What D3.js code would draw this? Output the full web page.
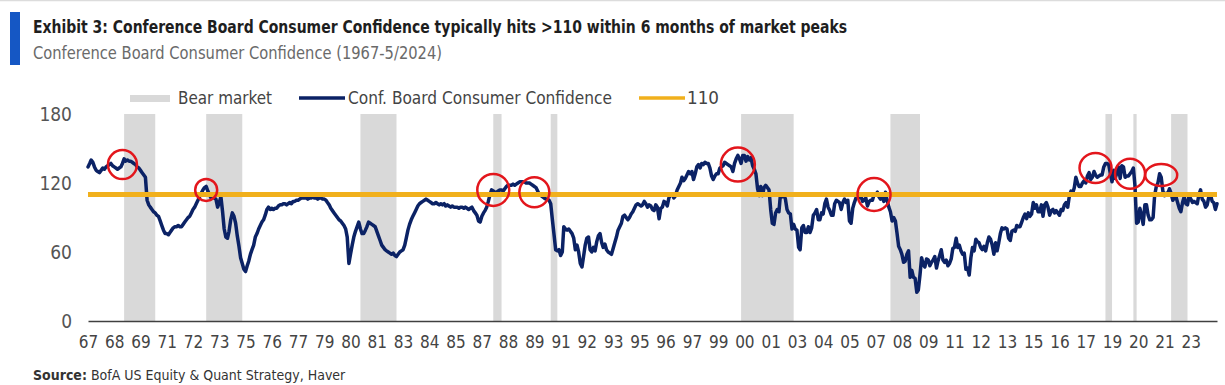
<!DOCTYPE html>
<html>
<head>
<meta charset="utf-8">
<script src="https://cdn.jsdelivr.net/npm/d3@7"></script>
<style>
  body { margin: 0; background: #fff; }
  text { font-family: "Liberation Sans Narrow", "DejaVu Sans Condensed", "Arial Narrow", sans-serif; }
</style>
</head>
<body>
<svg id="chart" width="1225" height="385"></svg>
<script>
// monthly Conference Board Consumer Confidence, Jan 1967 .. May 2024
const startMonth = "1967-01";
const confidence = [
  134, 137, 140, 138, 134, 131, 130, 129, 131, 133, 132, 134, // 1967
  135, 136, 137, 135, 134, 133, 132, 133, 134, 137, 141, 139, // 1968
  140, 139, 139, 138, 137, 136, 134, 133, 131, 129, 127, 125, // 1969
  105, 101, 99, 97, 95, 94, 92, 91, 87, 83, 79, 76,           // 1970
  76, 75, 77, 79, 81, 82, 82, 83, 82, 82, 84, 86,             // 1971
  88, 90, 91, 94, 97, 99, 102, 105, 108, 111, 114, 116,       // 1972
  117, 113, 110, 107, 108, 107, 106, 99, 103, 108, 95, 80,    // 1973
  73, 72, 78, 88, 94, 91, 85, 74, 65, 55, 50, 45,             // 1974
  43, 48, 52, 58, 62, 66, 73, 76, 80, 83, 86, 88,             // 1975
  92, 97, 99, 97, 98, 97, 98, 98, 100, 101, 101, 102,         // 1976
  102, 101, 102, 103, 102, 104, 104, 105, 105, 106, 107, 107, // 1977
  107, 107, 106, 107, 107, 108, 107, 107, 106, 107, 107, 106, // 1978
  106, 105, 103, 101, 98, 96, 94, 92, 90, 88, 87, 85,         // 1979
  83, 80, 73, 50, 58, 66, 73, 78, 82, 86, 80, 76,             // 1980
  76, 79, 82, 86, 85, 84, 83, 82, 78, 74, 70, 66,             // 1981
  64, 62, 61, 60, 59, 58, 59, 57, 56, 58, 60, 61,             // 1982
  62, 66, 72, 79, 84, 88, 91, 94, 97, 100, 102, 103,          // 1983
  104, 105, 106, 105, 104, 103, 102, 102, 103, 102, 101, 102, // 1984
  101, 102, 100, 101, 100, 99, 100, 99, 99, 99, 98, 99,       // 1985
  99, 98, 99, 98, 97, 98, 99, 96, 94, 92, 87, 86,             // 1986
  91, 94, 96, 99, 104, 110, 114, 113, 112, 112, 113, 114,     // 1987
  114, 113, 115, 117, 118, 118, 118, 119, 118, 119, 120, 121, // 1988
  121, 121, 121, 120, 120, 120, 119, 118, 117, 116, 113, 110, // 1989
  109, 108, 107, 106, 106, 105, 102, 88, 75, 62, 61, 62,      // 1990
  57, 60, 82, 80, 79, 80, 78, 76, 72, 62, 66, 60,             // 1991
  50, 47, 56, 66, 72, 73, 62, 60, 64, 61, 69, 74,             // 1992
  76, 68, 64, 67, 62, 60, 59, 58, 63, 68, 73, 79,             // 1993
  82, 85, 91, 92, 90, 88, 90, 93, 95, 98, 101, 102,           // 1994
  101, 100, 101, 104, 102, 99, 101, 100, 97, 96, 101, 99,     // 1995
  89, 98, 99, 104, 103, 100, 107, 110, 110, 107, 109, 114,    // 1996
  117, 120, 125, 122, 124, 127, 130, 128, 130, 123, 128, 134, // 1997
  136, 133, 137, 136, 138, 137, 137, 133, 126, 123, 126, 128, // 1998
  128, 133, 134, 135, 138, 137, 136, 135, 134, 130, 137, 141, // 1999
  144, 141, 137, 144, 144, 139, 143, 140, 142, 135, 132, 128, // 2000
  115, 109, 117, 109, 116, 118, 116, 114, 97, 85, 84, 94,     // 2001
  97, 95, 110, 108, 110, 106, 97, 94, 93, 80, 84, 80,         // 2002
  79, 64, 62, 81, 83, 77, 77, 82, 77, 81, 92, 94,             // 2003
  97, 88, 88, 94, 93, 102, 106, 99, 96, 92, 92, 102,          // 2004
  105, 104, 103, 97, 103, 106, 103, 105, 87, 85, 98, 103,     // 2005
  107, 111, 107, 109, 104, 105, 107, 100, 104, 105, 105, 110, // 2006
  110, 112, 108, 106, 108, 104, 112, 105, 99, 95, 87, 90,     // 2007
  87, 76, 65, 62, 58, 51, 52, 58, 61, 38, 44, 38,             // 2008
  37, 25, 27, 40, 55, 49, 47, 54, 53, 48, 51, 53,             // 2009
  56, 46, 52, 57, 62, 53, 51, 53, 48, 50, 54, 63,             // 2010
  64, 72, 64, 66, 61, 58, 59, 45, 46, 40, 55, 64,             // 2011
  61, 71, 69, 68, 64, 62, 65, 61, 68, 73, 71, 66,             // 2012
  58, 68, 61, 68, 76, 81, 80, 81, 80, 72, 70, 78,             // 2013
  79, 78, 83, 82, 82, 86, 90, 93, 89, 94, 91, 93,             // 2014
  103, 98, 101, 95, 95, 101, 91, 101, 103, 99, 92, 96,        // 2015
  97, 94, 96, 94, 92, 97, 96, 101, 103, 99, 109, 113,         // 2016
  111, 116, 125, 120, 117, 117, 120, 122, 120, 126, 129, 123, // 2017
  125, 130, 127, 125, 126, 127, 127, 134, 137, 137, 136, 128, // 2018
  121, 131, 124, 129, 134, 124, 135, 134, 125, 126, 126, 128, // 2019
  130, 133, 118, 85, 86, 98, 92, 84, 101, 101, 92, 88,        // 2020
  88, 90, 109, 117, 120, 128, 125, 113, 109, 111, 111, 115,   // 2021
  111, 105, 107, 108, 103, 98, 95, 103, 108, 102, 101, 109,   // 2022
  106, 103, 104, 103, 102, 110, 114, 106, 104, 99, 101, 108,  // 2023
  110, 104, 103, 97, 102                                      // 2024
];

// bear markets: [first month, month after the end]
const bearStarts = ["1968-11", "1973-01", "1980-11", "1987-08", "1990-07", "2000-03", "2007-10", "2018-09", "2020-02", "2022-01"];
const bearEnds   = ["1970-06", "1974-11", "1982-09", "1988-01", "1990-11", "2002-11", "2009-04", "2019-01", "2020-04", "2022-11"];

const threshold = 110;

// circled peaks
const peakMonths = ["1968-10", "1973-01", "1987-08", "1989-09", "2000-01", "2006-12", "2018-03", "2019-12", "2021-07"];
const peakValues = [136, 114, 114, 112, 136, 110, 133, 128, 127];

const yTicks = [0, 60, 120, 180];
const xTickLabels = ["67","68","69","71","72","73","75","76","77","79","80","81","83","84","85","87","88","89","91","92","93","95","96","97","99","00","01","03","04","05","07","08","09","11","12","13","15","16","17","19","20","21","23"];
const xTickStepMonths = 16;

const title = "Exhibit 3: Conference Board Consumer Confidence typically hits >110 within 6 months of market peaks";
const subtitle = "Conference Board Consumer Confidence (1967-5/2024)";
const source = "BofA US Equity & Quant Strategy, Haver";

// ---- drawing ----
const navy = "#0b2265", gold = "#f1b01c", band = "#d9d9d9", red = "#e3161c";
const parseMonth = d3.timeParse("%Y-%m");
const start = parseMonth(startMonth);
const data = confidence.map((v, i) => ({ date: d3.timeMonth.offset(start, i), value: v }));

const svg = d3.select("#chart");
const plot = { left: 88, right: 1217, top: 114, bottom: 321 };

const x = d3.scaleTime()
  .domain([start, data[data.length - 1].date])
  .range([plot.left, plot.right]);
const y = d3.scaleLinear().domain([0, 180]).range([plot.bottom, plot.top]);

// frame line at the top
svg.append("line").attr("x1", 0).attr("x2", 1225).attr("y1", 0.5).attr("y2", 0.5)
  .attr("stroke", "#dcdcdc").attr("stroke-width", 1.5);

// header
svg.append("rect").attr("x", 10).attr("y", 12).attr("width", 10).attr("height", 53).attr("fill", "#1557c4");
svg.append("text").attr("x", 33).attr("y", 33).attr("font-size", 18).attr("font-weight", "bold")
  .attr("fill", "#1e1e1e").attr("textLength", 814).attr("lengthAdjust", "spacingAndGlyphs").text(title);
svg.append("text").attr("x", 33).attr("y", 59).attr("font-size", 17)
  .attr("fill", "#6a6a6a").attr("textLength", 409).attr("lengthAdjust", "spacingAndGlyphs").text(subtitle);

// legend
const lg = svg.append("g").attr("font-size", 17).attr("fill", "#444");
lg.append("rect").attr("x", 130).attr("y", 95).attr("width", 40).attr("height", 7).attr("fill", band);
lg.append("text").attr("x", 178).attr("y", 104).attr("textLength", 94).attr("lengthAdjust", "spacingAndGlyphs").text("Bear market");
lg.append("line").attr("x1", 299).attr("x2", 345).attr("y1", 98).attr("y2", 98).attr("stroke", navy).attr("stroke-width", 3.5);
lg.append("text").attr("x", 348).attr("y", 104).attr("textLength", 264).attr("lengthAdjust", "spacingAndGlyphs").text("Conf. Board Consumer Confidence");
lg.append("line").attr("x1", 639).attr("x2", 685).attr("y1", 98).attr("y2", 98).attr("stroke", gold).attr("stroke-width", 3.5);
lg.append("text").attr("x", 687).attr("y", 104).attr("textLength", 32).attr("lengthAdjust", "spacingAndGlyphs").text(String(threshold));

// bear market bands
svg.append("g").selectAll("rect")
  .data(bearStarts.map((s, i) => ({ s: parseMonth(s), e: parseMonth(bearEnds[i]) })))
  .enter().append("rect")
  .attr("x", d => x(d.s))
  .attr("width", d => x(d.e) - x(d.s))
  .attr("y", y(180))
  .attr("height", y(0) - y(180))
  .attr("fill", band);

// axes
const xTickDates = xTickLabels.map((_, i) => d3.timeMonth.offset(start, i * xTickStepMonths));
const xAxis = svg.append("g").attr("transform", `translate(0,${y(0)})`)
  .call(d3.axisBottom(x).tickValues(xTickDates).tickFormat((d, i) => xTickLabels[i]).tickSize(0).tickSizeOuter(0).tickPadding(15));
xAxis.select(".domain").attr("stroke", "#404040").attr("stroke-width", 1.6);
xAxis.selectAll("text").attr("font-size", 17).attr("fill", "#444")
  .attr("font-family", "'Liberation Sans Narrow', 'DejaVu Sans Condensed', sans-serif");

const yAxis = svg.append("g").attr("transform", `translate(${plot.left},0)`)
  .call(d3.axisLeft(y).tickValues(yTicks).tickSize(0).tickPadding(16));
yAxis.select(".domain").remove();
yAxis.selectAll("text").attr("font-size", 19).attr("fill", "#555")
  .attr("font-family", "'Liberation Sans Narrow', 'DejaVu Sans Condensed', sans-serif");

// confidence line
const line = d3.line().x(d => x(d.date)).y(d => y(d.value));
svg.append("path").datum(data)
  .attr("d", line)
  .attr("fill", "none")
  .attr("stroke", navy)
  .attr("stroke-width", 3.5)
  .attr("stroke-linejoin", "round")
  .attr("stroke-linecap", "round");

// 110 line
svg.append("line")
  .attr("x1", plot.left).attr("x2", plot.right)
  .attr("y1", y(threshold)).attr("y2", y(threshold))
  .attr("stroke", gold).attr("stroke-width", 5);

// red circles
const ringRx = [14.5, 11, 16, 15, 17, 16.5, 16, 15, 16];
const ringRy = [14.5, 11, 16, 15, 17, 16.5, 15, 15, 11];
svg.append("g").selectAll("ellipse")
  .data(peakMonths.map((m, i) => ({ date: parseMonth(m), value: peakValues[i], i })))
  .enter().append("ellipse")
  .attr("cx", d => x(d.date))
  .attr("cy", d => y(d.value))
  .attr("rx", d => ringRx[d.i])
  .attr("ry", d => ringRy[d.i])
  .attr("fill", "none")
  .attr("stroke", red)
  .attr("stroke-width", 2.5);

// source
const src = svg.append("text").attr("x", 33).attr("y", 380).attr("font-size", 14).attr("fill", "#333");
src.append("tspan").attr("font-weight", "bold").text("Source:");
src.append("tspan").text(" " + source);
</script>
</body>
</html>
